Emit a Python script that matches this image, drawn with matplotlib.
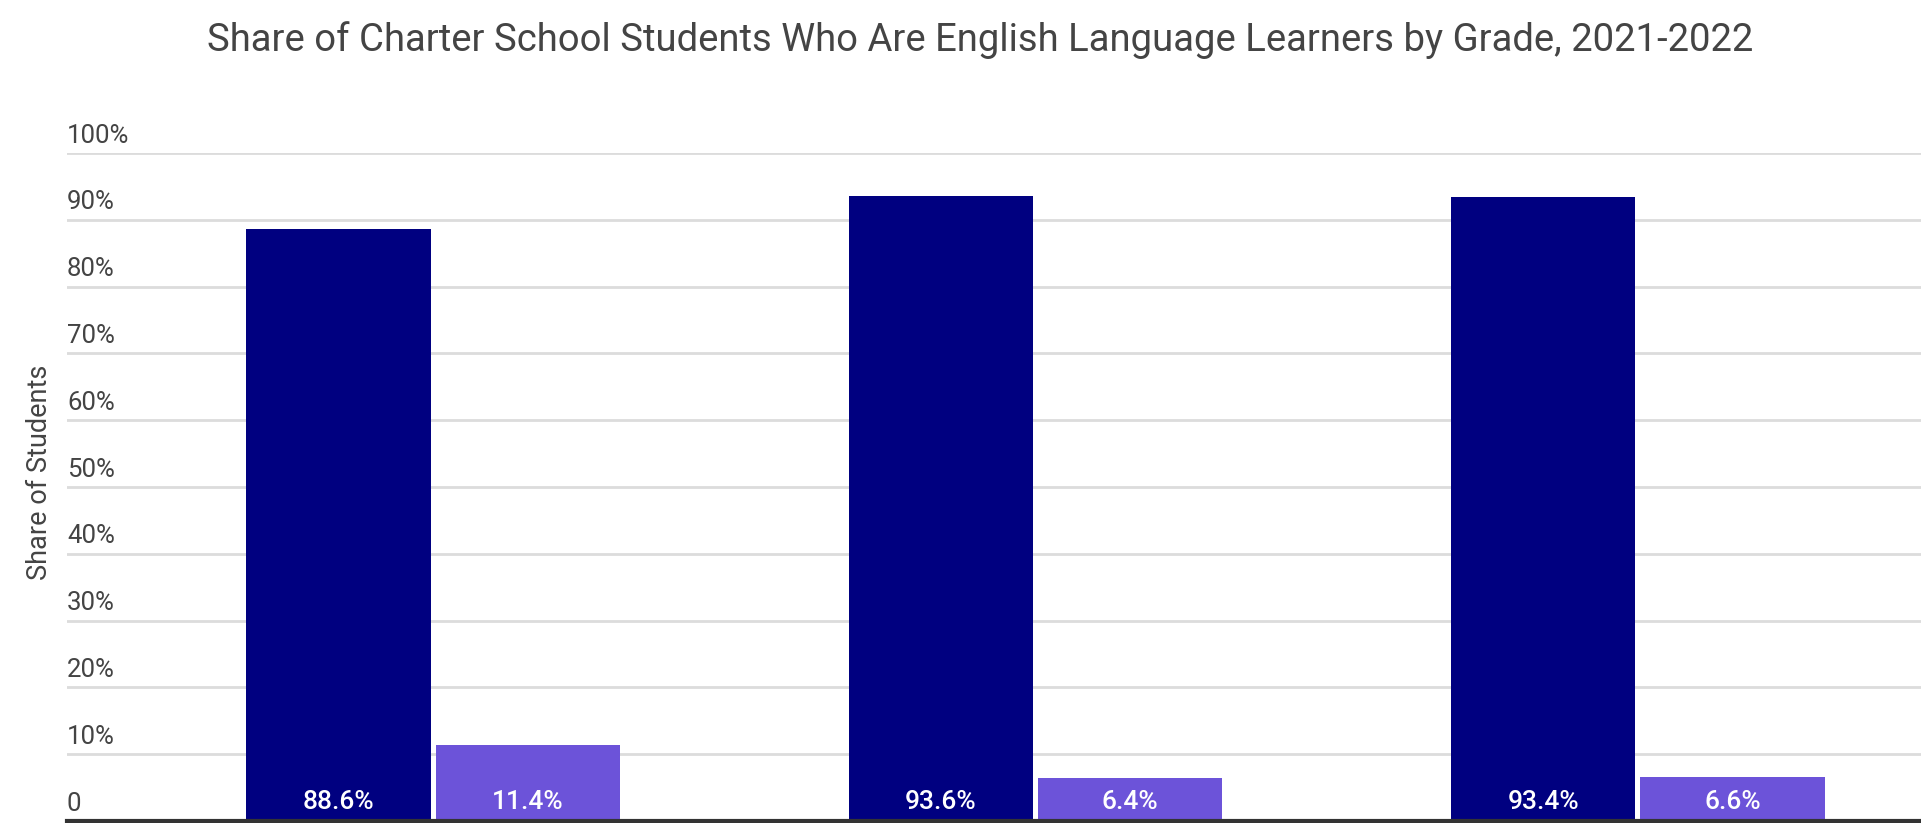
import matplotlib
matplotlib.use("Agg")
import matplotlib.pyplot as plt
import numpy as np

plt.rcParams['font.family'] = ['Roboto', 'DejaVu Sans']

# share of students per grade group, two series
not_ell = [88.6, 93.6, 93.4]
ell = [11.4, 6.4, 6.6]
series_colors = ["#000080", "#6c53d9"]
yticks = [0, 10, 20, 30, 40, 50, 60, 70, 80, 90, 100]
ytick_labels = ["0", "10%", "20%", "30%", "40%", "50%", "60%", "70%", "80%", "90%", "100%"]

W, H = 1921, 823
fig = plt.figure(figsize=(W / 100, H / 100), dpi=100)
ax = fig.add_axes([67 / W, 2 / H, 1 - 67 / W, 668 / H])

x = np.arange(len(not_ell))
bw = 0.306
gap = 0.0042
b1 = ax.bar(x - bw / 2 - gap, not_ell, bw, color=series_colors[0], zorder=3)
b2 = ax.bar(x + bw / 2 + gap, ell, bw, color=series_colors[1], zorder=3)

for bars, vals in ((b1, not_ell), (b2, ell)):
    for rect, v in zip(bars, vals):
        ax.annotate(f"{v}%", (rect.get_x() + rect.get_width() / 2, 0),
                    xytext=(0, 5), textcoords="offset points",
                    ha="center", va="bottom", color="white",
                    fontsize=19, fontweight="medium", zorder=4)

ax.set_xlim(-0.608, 2.47)
ax.set_ylim(0, 100)
ax.set_yticks(yticks)
ax.set_yticklabels([])
ax.tick_params(left=False, bottom=False, labelbottom=False)
ax.set_xticks([])
for y in yticks[1:]:
    ax.axhline(y, color="#dcdcdc", lw=2, zorder=1)
for y, lab in zip(yticks, ytick_labels):
    ax.text(0, y + 0.8, lab, transform=ax.get_yaxis_transform(),
            ha="left", va="bottom", fontsize=18.5, color="#444444")
ax.axhline(0, color="#333333", lw=3, zorder=5, clip_on=False)
for s in ax.spines.values():
    s.set_visible(False)

fig.text(40 / W, 1 - 472 / H, "Share of Students", rotation=90,
         ha="center", va="center", fontsize=19.5, color="#444444")
fig.text(0.51, 1 - 40 / H,
         "Share of Charter School Students Who Are English Language Learners by Grade, 2021-2022",
         ha="center", va="center", fontsize=27.5, color="#444444")

fig.savefig("out.png", dpi=100)
